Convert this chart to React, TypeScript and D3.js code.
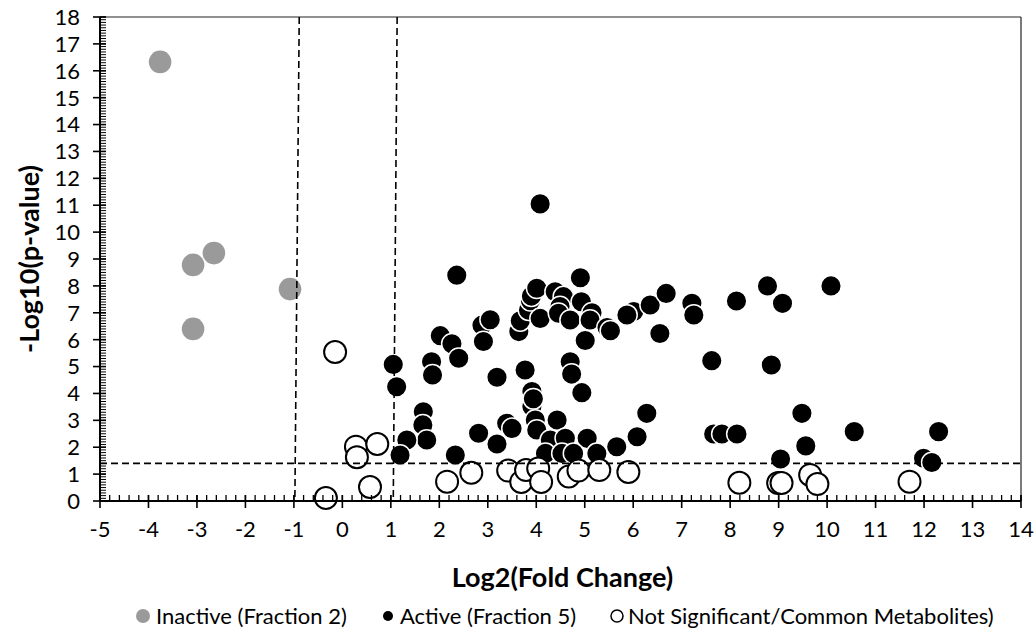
import React from 'react';
import * as d3 from 'd3';

type P = [number, number];

const inactivePoints: P[] = [
  [-3.76, 16.33], [-3.08, 8.78], [-2.65, 9.22], [-3.08, 6.4], [-1.08, 7.88],
];

const activePoints: P[] = [
  [4.08, 11.05], [2.36, 8.4], [1.05, 5.08], [1.12, 4.25], [2.02, 6.15], [2.26, 5.85],
  [2.4, 5.31], [1.84, 5.18], [1.86, 4.69], [2.88, 6.54], [3.05, 6.74], [2.91, 5.93],
  [3.64, 6.3], [3.67, 6.7], [3.84, 7.1], [3.88, 7.45], [3.9, 7.62], [4.01, 7.91],
  [4.08, 6.79], [4.39, 7.78], [4.56, 7.6], [4.49, 7.23], [4.46, 6.98], [4.91, 8.3],
  [4.93, 7.41], [4.7, 6.73], [5.15, 7.0], [5.11, 6.73], [5.46, 6.45], [5.53, 6.33],
  [5.01, 5.97], [6.01, 7.05], [6.35, 7.29], [6.68, 7.72], [6.55, 6.23], [7.21, 7.35],
  [7.25, 6.92], [8.13, 7.44], [8.77, 8.0], [9.08, 7.35], [10.08, 8.0], [7.62, 5.22],
  [8.85, 5.06], [7.66, 2.49], [7.83, 2.49], [8.14, 2.49], [9.48, 3.26], [9.56, 2.05],
  [9.04, 1.56], [10.56, 2.58], [12.3, 2.58], [11.99, 1.59], [12.16, 1.43],
  [3.19, 4.6], [3.77, 4.87], [4.7, 5.18], [4.73, 4.72], [4.94, 4.03], [3.91, 4.07],
  [3.91, 3.51], [3.94, 3.8], [3.98, 3.01], [4.01, 2.64], [4.43, 3.01], [4.29, 2.27],
  [4.6, 2.33], [5.05, 2.33], [4.19, 1.77], [4.53, 1.77], [4.77, 1.77], [5.25, 1.77],
  [5.66, 2.02], [6.08, 2.39], [6.28, 3.26], [3.39, 2.89], [3.5, 2.7], [3.19, 2.12],
  [2.81, 2.52], [2.33, 1.71], [1.67, 3.32], [1.66, 2.83], [1.74, 2.27], [1.33, 2.27],
  [1.19, 1.71], [5.87, 6.92],
];

const notSigPoints: P[] = [
  [-0.15, 5.54], [-0.34, 0.11], [0.28, 2.02], [0.3, 1.63], [0.72, 2.12], [0.57, 0.52],
  [2.16, 0.72], [2.66, 1.05], [3.42, 1.13], [3.69, 0.71], [3.79, 1.15], [4.04, 1.21],
  [4.1, 0.71], [4.67, 0.91], [4.87, 1.13], [5.3, 1.15], [5.9, 1.08],
  [8.19, 0.68], [8.99, 0.67], [9.06, 0.67], [9.65, 0.97], [9.8, 0.63], [11.7, 0.72],
];

const xTickValues = d3.range(-5, 15);
const yTickValues = d3.range(0, 19);
const xMinorTicks = d3.range(-5, 14.001, 0.2);
const yMinorTicks = d3.range(0, 18.001, 0.1);

// threshold guide lines (as drawn in the reference)
const verticalGuides: [P, P][] = [
  [[-0.89, 18], [-0.98, 0]],
  [[1.13, 18], [1.05, 0]],
];
const pThreshold = 1.4;

const legendItems = [
  'Inactive (Fraction 2)',
  'Active (Fraction 5)',
  'Not Significant/Common Metabolites)',
];

const W = 1036;
const H = 632;
const FONT = 'Lato, "Open Sans", sans-serif';

export default function App() {
  const x = d3.scaleLinear().domain([-5, 14]).range([100, 1021]);
  const y = d3.scaleLinear().domain([0, 18]).range([501, 17]);
  const [x0, x1] = x.range();
  const [y0, y1] = y.range();

  return (
    <svg width={W} height={H} style={{ position: 'absolute', left: 0, top: 0, background: '#fff' }}>
      <rect x={0} y={0} width={W} height={H} fill="#fff" />
      {/* frame */}
      <line x1={x0} x2={x1} y1={y1} y2={y1} stroke="#222" strokeWidth={1.2} />
      <line x1={x1} x2={x1} y1={y1} y2={y0} stroke="#222" strokeWidth={1.2} />

      {/* markers */}
      {inactivePoints.map((d, i) => (
        <circle key={'g' + i} cx={x(d[0])} cy={y(d[1])} r={11.3} fill="#9a9a9a" />
      ))}
      {activePoints.map((d, i) => (
        <circle key={'b' + i} cx={x(d[0])} cy={y(d[1])} r={10.3} fill="#000" stroke="#fff" strokeWidth={1.5} />
      ))}
      {notSigPoints.map((d, i) => (
        <circle key={'o' + i} cx={x(d[0])} cy={y(d[1])} r={11} fill="#fff" stroke="#000" strokeWidth={2} />
      ))}

      {/* guides */}
      {verticalGuides.map((g, i) => (
        <line key={'v' + i} x1={x(g[0][0])} y1={y(g[0][1])} x2={x(g[1][0])} y2={y(g[1][1])}
          stroke="#000" strokeWidth={1.6} strokeDasharray="7,4" />
      ))}
      <line x1={x0} x2={x1} y1={y(pThreshold)} y2={y(pThreshold)} stroke="#000" strokeWidth={1.6} strokeDasharray="7,4" />

      {/* x axis */}
      <line x1={x0} x2={x1} y1={y0} y2={y0} stroke="#000" strokeWidth={2} />
      {xMinorTicks.map((t, i) => (
        <line key={'xm' + i} x1={x(t)} x2={x(t)} y1={y0 - 6} y2={y0} stroke="#000" strokeWidth={1.3} />
      ))}
      {xTickValues.map((t) => (
        <g key={'xt' + t}>
          <line x1={x(t)} x2={x(t)} y1={y0 - 6} y2={y0 + 7} stroke="#000" strokeWidth={1.6} />
          <text x={x(t)} y={y0 + 36} textAnchor="middle" fontFamily={FONT} fontSize={22} fill="#000">{t}</text>
        </g>
      ))}

      {/* y axis */}
      <line x1={x0} x2={x0} y1={y0} y2={y1} stroke="#000" strokeWidth={2} />
      {yMinorTicks.map((t, i) => (
        <line key={'ym' + i} x1={x0} x2={x0 + 6} y1={y(t)} y2={y(t)} stroke="#000" strokeWidth={1} />
      ))}
      {yTickValues.map((t) => (
        <g key={'yt' + t}>
          <line x1={x0 - 7} x2={x0 + 6} y1={y(t)} y2={y(t)} stroke="#000" strokeWidth={1.6} />
          <text x={x0 - 20} y={y(t)} dy="0.36em" textAnchor="end" fontFamily={FONT} fontSize={22} fill="#000">{t}</text>
        </g>
      ))}

      {/* axis titles */}
      <text x={(x0 + x1) / 2 + 2} y={587} textAnchor="middle" fontFamily={FONT} fontWeight="bold" fontSize={27} fill="#000">Log2(Fold Change)</text>
      <text transform={`translate(39,${(y0 + y1) / 2}) rotate(-90)`} textAnchor="middle" fontFamily={FONT} fontWeight="bold" fontSize={27} fill="#000">-Log10(p-value)</text>

      {/* legend */}
      <g fontFamily={FONT} fontSize={22} fill="#000">
        <circle cx={143} cy={616} r={7} fill="#9a9a9a" />
        <text x={156} y={624}>{legendItems[0]}</text>
        <circle cx={388} cy={616} r={5} fill="#000" />
        <text x={400} y={624}>{legendItems[1]}</text>
        <circle cx={617} cy={616} r={6} fill="#fff" stroke="#000" strokeWidth={1.5} />
        <text x={628} y={624}>{legendItems[2]}</text>
      </g>
    </svg>
  );
}
